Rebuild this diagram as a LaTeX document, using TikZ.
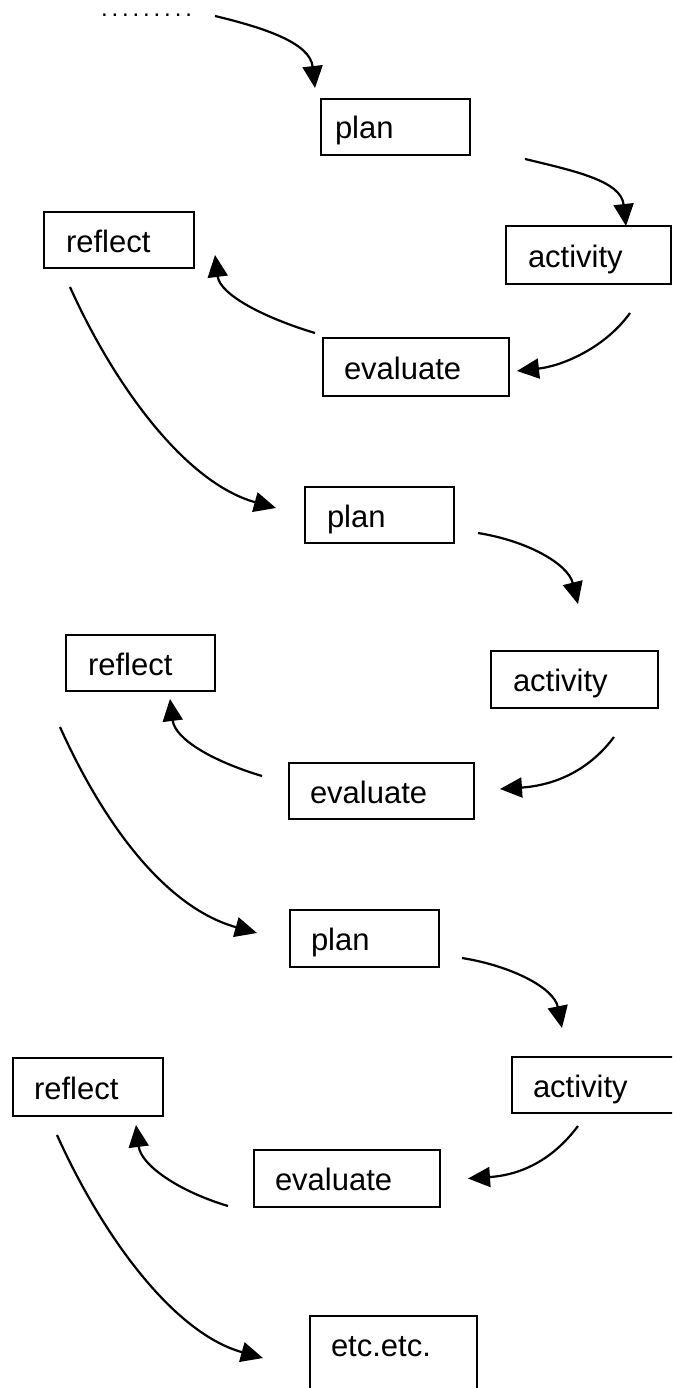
\documentclass[tikz,border=0pt]{standalone}
\usepackage{fontspec}
\setmainfont{Liberation Sans}
\newfontfamily\dotfont[LetterSpace=16]{Liberation Sans}
\usetikzlibrary{arrows.meta}
\begin{document}
\begin{tikzpicture}[x=1pt,y=-1pt,
  box/.style={draw, line width=2pt, rectangle, anchor=north west, inner ysep=0pt,
    text height=24pt, text depth=0pt, align=left, font=\fontsize{31}{31}\selectfont},
  link/.style={line width=2.2pt, -{Triangle[length=22pt,width=20pt]}}]
\useasboundingbox (0,0) rectangle (672,1388);
\clip (0,0) rectangle (672,1388);
\fill[white] (0,0) rectangle (672,1388);

\node[anchor=base west, inner sep=0pt, font=\dotfont\fontsize{24}{24}\selectfont] (dots) at (101,17) {.........};

\node[box, inner xsep=14pt, text width=121pt, minimum height=56pt] (plan1) at (320,98) {plan};
\node[box, inner xsep=22pt, text width=121pt, minimum height=58pt] (activity1) at (505,225) {activity};
\node[box, inner xsep=22pt, text width=106pt, minimum height=56pt] (reflect1) at (43,211) {reflect};
\node[box, inner xsep=21pt, text width=144pt, minimum height=58pt] (evaluate1) at (322,337) {evaluate};

\node[box, inner xsep=22pt, text width=105pt, minimum height=56pt] (plan2) at (304,486) {plan};
\node[box, inner xsep=22pt, text width=123pt, minimum height=57pt] (activity2) at (490,650) {activity};
\node[box, inner xsep=22pt, text width=105pt, minimum height=56pt] (reflect2) at (65,634) {reflect};
\node[box, inner xsep=21pt, text width=143pt, minimum height=56pt] (evaluate2) at (288,762) {evaluate};

\node[box, inner xsep=21pt, text width=107pt, minimum height=57pt] (plan3) at (289,909) {plan};
\node[box, inner xsep=21pt, text width=138pt, minimum height=56pt] (activity3) at (511,1056) {activity};
\node[box, inner xsep=21pt, text width=108pt, minimum height=58pt] (reflect3) at (12,1057) {reflect};
\node[box, inner xsep=21pt, text width=144pt, minimum height=57pt] (evaluate3) at (253,1149) {evaluate};

\node[box, inner xsep=21pt, text width=125pt, text depth=44pt, minimum height=100pt] (etc) at (309,1315) {etc.etc.};

% cycle 1
\draw[link] ([shift={(114,-1)}]dots.base west) .. controls +(50,12) and +(-5,-45) .. ([shift={(-5,-10)}]plan1.north west);
\draw[link] ([shift={(54,3)}]plan1.south east) .. controls +(50,12) and +(-5,-45) .. ([shift={(37.5,1)}]activity1.north);
\draw[link] ([shift={(41.5,28)}]activity1.south) .. controls +(-25,35) and +(45,-5) .. ([shift={(7,4)}]evaluate1.east);
\draw[link] ([shift={(-7,-4)}]evaluate1.north west) .. controls +(-50,-15) and +(5,40) .. ([shift={(20,-14)}]reflect1.south east);
\draw[link] ([shift={(27,18)}]reflect1.south west) .. controls +(45,100) and +(-90,-25) .. ([shift={(-28,-7)}]plan2.west);

% cycle 2
\draw[link] ([shift={(23,-11)}]plan2.south east) .. controls +(50,8) and +(-10,-40) .. ([shift={(3.5,-46)}]activity2.north);
\draw[link] ([shift={(39.5,28)}]activity2.south) .. controls +(-30,40) and +(45,-3) .. ([shift={(25,-2)}]evaluate2.east);
\draw[link] ([shift={(-26,-15)}]evaluate2.west) .. controls +(-50,-15) and +(5,40) .. ([shift={(29.5,7)}]reflect2.south);
\draw[link] ([shift={(-5,35)}]reflect2.south west) .. controls +(45,100) and +(-90,-25) .. ([shift={(-32,-5.5)}]plan3.west);

% cycle 3
\draw[link] ([shift={(22,-10)}]plan3.south east) .. controls +(50,8) and +(-8,-40) .. ([shift={(51,-28)}]activity3.north west);
\draw[link] ([shift={(67,12)}]activity3.south west) .. controls +(-30,40) and +(45,-3) .. ([shift={(27,0)}]evaluate3.east);
\draw[link] ([shift={(-25,-2)}]evaluate3.south west) .. controls +(-50,-15) and +(5,40) .. ([shift={(48,8)}]reflect3.south);
\draw[link] ([shift={(45,18)}]reflect3.south west) .. controls +(45,100) and +(-90,-25) .. ([shift={(-46,43)}]etc.north west);
\end{tikzpicture}
\end{document}
